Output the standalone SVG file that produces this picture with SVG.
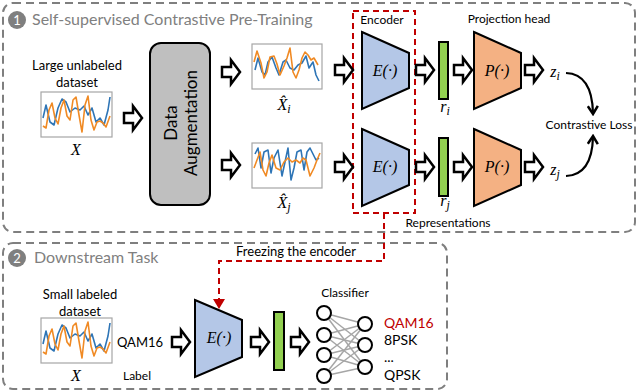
<svg xmlns="http://www.w3.org/2000/svg" xmlns:xlink="http://www.w3.org/1999/xlink" width="640" height="392" viewBox="0 0 640 392">
<style>
.panel{fill:none;stroke:#7f7f7f;stroke-width:2;stroke-dasharray:8 5}
.ttl{font-family:Lato,"Liberation Sans",sans-serif;font-size:16px;fill:#808080}
.num{font-family:Lato,"Liberation Sans",sans-serif;font-size:13px;fill:#fff;text-anchor:middle}
.lbl{font-family:Lato,"Liberation Sans",sans-serif;font-size:13px;fill:#000;text-anchor:middle}
.sm{font-family:Lato,"Liberation Sans",sans-serif;font-size:12px;fill:#000;text-anchor:middle}
.math{font-family:"Liberation Serif","DejaVu Serif",serif;font-style:italic;font-size:16px;fill:#000;text-anchor:middle}
.plot{fill:#fff;stroke:#a6a6a6;stroke-width:1.2}
.blue{fill:none;stroke:#2e75b6;stroke-width:1.6;stroke-linejoin:round}
.orange{fill:none;stroke:#f08a24;stroke-width:1.6;stroke-linejoin:round}
.enc{fill:#b4c7e7;stroke:#000;stroke-width:2}
.proj{fill:#f4b183;stroke:#000;stroke-width:2}
.bar{fill:#92d050;stroke:#000;stroke-width:2}
.ba{fill:#fff;stroke:#000;stroke-width:2.5;stroke-linejoin:miter}
.red{fill:none;stroke:#c00000;stroke-width:2;stroke-dasharray:6 4}
.net{stroke:#a6a6a6;stroke-width:1.5}
.neu{fill:#fff;stroke:#000;stroke-width:2}
</style>
<defs>
<path id="ba" class="ba" d="M0,-5 H9 V-12 L18,0 L9,12 V5 H0 Z"/>
<marker id="ah" viewBox="0 0 12 12" refX="9" refY="6" markerWidth="12" markerHeight="12" markerUnits="userSpaceOnUse" orient="auto">
<path d="M2,1 L10,6 L2,11" fill="none" stroke="#000" stroke-width="2.5"/>
</marker>
<g id="plotX">
<rect class="plot" x="41" y="92" width="71" height="45"/>
<polyline class="blue" points="43,118 46,105 50,122 54,125 58,108 62,99 66,102 70,112 75,108 80,110 84,106 88,115 92,108 96,122 100,118 104,125 108,110 110,97"/>
<polyline class="orange" points="43,126 46,128 49,110 52,103 55,118 58,124 61,108 64,100 67,116 70,120 73,100 76,97 79,115 82,132 85,105 88,96 91,120 94,130 97,122 100,121 103,123 106,127 110,116"/>
</g>
</defs>

<!-- panels -->
<g id="panel1">
<rect class="panel" x="3" y="3" width="632" height="229" rx="10"/>
<circle cx="17" cy="20" r="9" fill="#7f7f7f"/>
<text class="num" x="17" y="25">1</text>
<text class="ttl" x="32" y="25">Self-supervised Contrastive Pre-Training</text>
</g>
<g id="panel2">
<rect class="panel" x="3" y="243" width="444" height="146" rx="10"/>
<circle cx="17" cy="258" r="9" fill="#7f7f7f"/>
<text class="num" x="17" y="263">2</text>
<text class="ttl" x="34" y="263">Downstream Task</text>
</g>

<!-- panel 1 nodes -->
<g id="dataset">
<text class="lbl" x="77" y="70">Large unlabeled</text>
<text class="lbl" x="77" y="87">dataset</text>
<use xlink:href="#plotX"/>
<text class="math" x="76" y="155">X</text>
</g>
<g id="augment">
<rect x="150" y="43" width="60" height="162" rx="11" fill="#bfbfbf" stroke="#000" stroke-width="2"/>
<text transform="translate(177,123) rotate(-90)" style="font-family:Lato,'Liberation Sans',sans-serif;font-size:17px;text-anchor:middle">Data</text>
<text transform="translate(197,123) rotate(-90)" style="font-family:Lato,'Liberation Sans',sans-serif;font-size:17px;text-anchor:middle">Augmentation</text>
</g>
<g id="xi">
<rect class="plot" x="252" y="44" width="70" height="45"/>
<polyline class="blue" points="255,70 258,58 262,72 265,75 268,62 272,57 276,68 279,75 283,62 286,60 290,68 294,70 298,65 302,63 306,56 309,68 313,62 316,75 319,81"/>
<polyline class="orange" points="254,62 257,51 261,63 264,78 267,72 270,57 274,56 277,64 280,75 284,66 287,58 290,48 293,72 296,78 299,70 302,58 305,52 308,55 311,60 314,58 318,65"/>
<text class="math" x="284" y="110">X̂<tspan font-size="12" dy="3">i</tspan></text>
</g>
<g id="xj">
<rect class="plot" x="252" y="143" width="70" height="45"/>
<polyline class="blue" points="255,154 258,148 261,168 264,152 268,150 271,173 274,158 278,150 282,176 285,162 288,148 291,180 294,168 297,152 301,150 304,170 307,152 310,148 313,154 316,160 319,158"/>
<polyline class="orange" points="254,168 257,160 260,152 263,170 266,176 269,163 272,155 276,168 280,170 284,162 288,158 292,162 296,160 300,163 303,158 306,160 310,176 314,168 317,160 320,153"/>
<text class="math" x="284" y="208">X̂<tspan font-size="12" dy="3">j</tspan></text>
</g>
<g id="encoder">
<rect class="red" x="353" y="11" width="62" height="202"/>
<text class="sm" x="382" y="24">Encoder</text>
<path class="enc" d="M362,32 L409,53 L409,88 L362,109 Z"/>
<text class="math" x="385" y="76" font-size="14">E(·)</text>
<path class="enc" d="M362,129 L409,150 L409,185 L362,206 Z"/>
<text class="math" x="385" y="172" font-size="14">E(·)</text>
</g>
<g id="repr">
<rect class="bar" x="439" y="42" width="9" height="57"/>
<text class="math" x="445" y="112">r<tspan font-size="12" dy="3">i</tspan></text>
<rect class="bar" x="439" y="138" width="9" height="58"/>
<text class="math" x="445" y="206">r<tspan font-size="12" dy="3">j</tspan></text>
<text class="sm" x="448" y="227">Representations</text>
</g>
<g id="projection">
<text class="sm" x="509" y="23">Projection head</text>
<path class="proj" d="M474,32 L521,53 L521,88 L474,109 Z"/>
<text class="math" x="497" y="76" font-size="14">P(·)</text>
<path class="proj" d="M474,129 L521,150 L521,185 L474,206 Z"/>
<text class="math" x="497" y="172" font-size="14">P(·)</text>
</g>
<g id="z">
<text class="math" x="555" y="77">z<tspan font-size="12" dy="3">i</tspan></text>
<text class="math" x="555" y="175">z<tspan font-size="12" dy="3">j</tspan></text>
</g>
<g id="loss">
<text class="sm" x="589" y="129" font-size="11">Contrastive Loss</text>
</g>

<!-- panel 2 nodes -->
<g id="small">
<text class="lbl" x="80" y="299">Small labeled</text>
<text class="lbl" x="80" y="316">dataset</text>
<use xlink:href="#plotX" transform="translate(0,226)"/>
<text class="math" x="76" y="381">X</text>
<text class="lbl" x="140" y="347" font-size="14">QAM16</text>
<text class="sm" x="137" y="380" font-size="11">Label</text>
</g>
<g id="encoder2">
<path class="enc" d="M195,300 L242,320 L242,357 L195,377 Z"/>
<text class="math" x="219" y="343" font-size="14">E(·)</text>
</g>
<g id="repr2">
<rect class="bar" x="274" y="312" width="10" height="58"/>
</g>
<g id="classifier">
<text class="sm" x="345" y="297">Classifier</text>
<g class="net">
<line x1="324" y1="313" x2="365" y2="324"/><line x1="324" y1="313" x2="365" y2="345"/><line x1="324" y1="313" x2="365" y2="367"/>
<line x1="324" y1="335" x2="365" y2="324"/><line x1="324" y1="335" x2="365" y2="345"/><line x1="324" y1="335" x2="365" y2="367"/>
<line x1="324" y1="355" x2="365" y2="324"/><line x1="324" y1="355" x2="365" y2="345"/><line x1="324" y1="355" x2="365" y2="367"/>
<line x1="324" y1="376" x2="365" y2="324"/><line x1="324" y1="376" x2="365" y2="345"/><line x1="324" y1="376" x2="365" y2="367"/>
</g>
<circle class="neu" cx="324" cy="313" r="7"/>
<circle class="neu" cx="324" cy="335" r="7"/>
<circle class="neu" cx="324" cy="355" r="7"/>
<circle class="neu" cx="324" cy="376" r="7"/>
<circle class="neu" cx="365" cy="324" r="7" stroke="#c00000"/>
<circle class="neu" cx="365" cy="345" r="7"/>
<circle class="neu" cx="365" cy="367" r="7"/>
<g style="font-family:Lato,'Liberation Sans',sans-serif;font-size:14px">
<text x="384" y="328" fill="#c00000">QAM16</text>
<text x="384" y="345">8PSK</text>
<text x="384" y="362">...</text>
<text x="384" y="380">QPSK</text>
</g>
</g>

<!-- connectors -->
<g id="connectors">
<use xlink:href="#ba" x="124" y="118"/>
<use xlink:href="#ba" x="222" y="72"/>
<use xlink:href="#ba" x="222" y="165"/>
<use xlink:href="#ba" x="335" y="70"/>
<use xlink:href="#ba" x="335" y="167"/>
<use xlink:href="#ba" x="416" y="70"/>
<use xlink:href="#ba" x="416" y="167"/>
<use xlink:href="#ba" x="454" y="70"/>
<use xlink:href="#ba" x="454" y="167"/>
<use xlink:href="#ba" x="525" y="70"/>
<use xlink:href="#ba" x="525" y="167"/>
<use xlink:href="#ba" x="172" y="342"/>
<use xlink:href="#ba" x="251" y="342"/>
<use xlink:href="#ba" x="291" y="342"/>
<path d="M566,73 Q592,74 593,113" fill="none" stroke="#000" stroke-width="2.2" marker-end="url(#ah)"/>
<path d="M566,176 Q592,175 593,137" fill="none" stroke="#000" stroke-width="2.2" marker-end="url(#ah)"/>
<path class="red" d="M384,213 V261 H219 V300"/>
<path d="M213,299 L225,299 L219,309 Z" fill="#c00000"/>
<text x="296" y="256" class="lbl" font-size="13">Freezing the encoder</text>
</g>
</svg>
